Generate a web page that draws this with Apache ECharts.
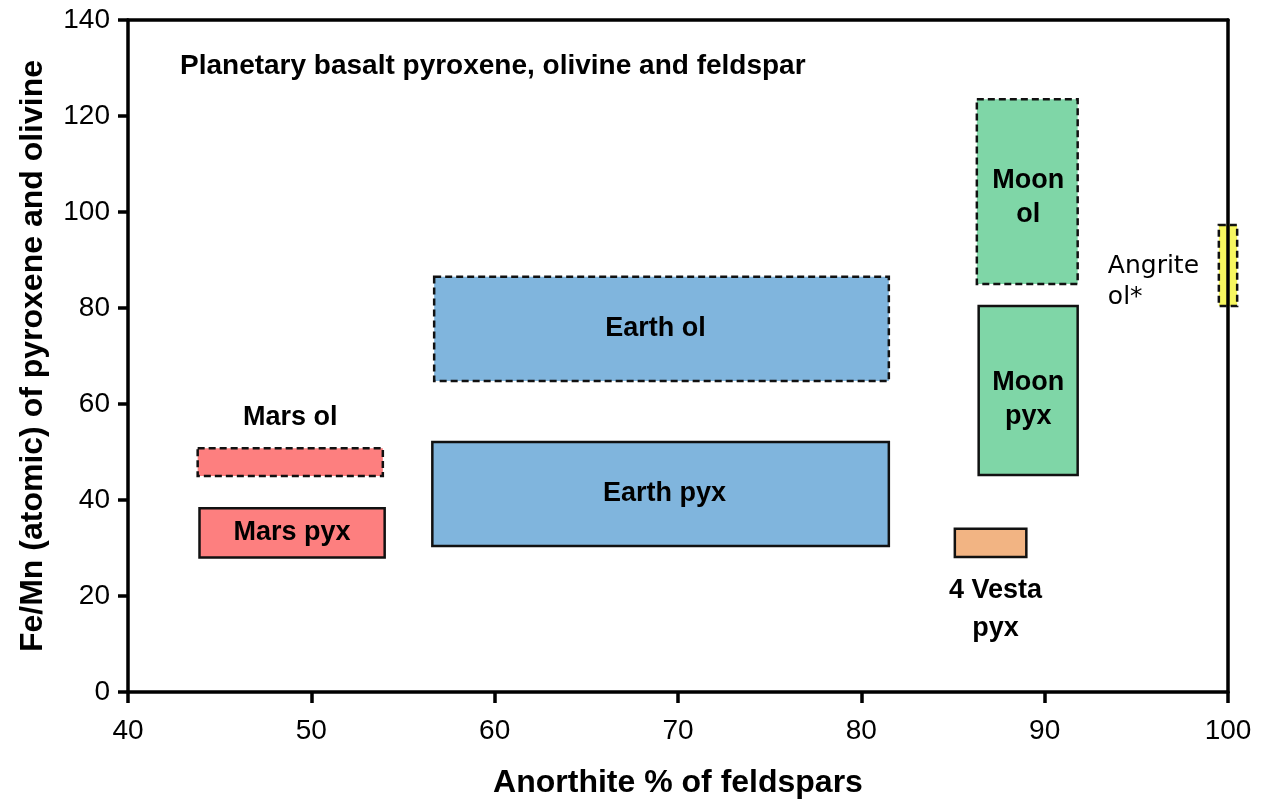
<!DOCTYPE html>
<html>
<head>
<meta charset="utf-8">
<title>Planetary basalt pyroxene, olivine and feldspar</title>
<script src="https://cdn.jsdelivr.net/npm/echarts@6/dist/echarts.min.js"></script>
<style>
  html, body { margin: 0; padding: 0; background: #ffffff; }
  #chart { width: 1265px; height: 808px; }
</style>
</head>
<body>
<div id="chart"></div>
<script>
// Compositional fields: anorthite % of feldspar (x) vs Fe/Mn of pyroxene/olivine (y)
const regionNames   = ['Mars ol', 'Mars pyx', 'Earth ol', 'Earth pyx', 'Moon ol', 'Moon pyx', '4 Vesta pyx', 'Angrite ol*'];
const labelTexts    = ['Mars ol', 'Mars pyx', 'Earth ol', 'Earth pyx', 'Moon\nol', 'Moon\npyx', '4 Vesta\npyx', 'Angrite\nol*'];
const anorthiteLow  = [43.8, 43.9, 56.7, 56.6, 86.3, 86.4, 85.1, 99.5];
const anorthiteHigh = [53.9, 54.0, 81.5, 81.5, 91.8, 91.8, 89.0, 100.5];
const feMnLow       = [45.0, 28.0, 64.8, 30.4, 85.0, 45.2, 28.1, 80.4];
const feMnHigh      = [50.8, 38.3, 86.5, 52.1, 123.5, 80.4, 34.0, 97.3];
const xTicks = [40, 50, 60, 70, 80, 90, 100];
const yTicks = [0, 20, 40, 60, 80, 100, 120, 140];

// Appearance of each field (olivine fields are outlined with dashes)
const regionStyle = {
  'Mars ol':     { fill: '#fd7f7f', dashed: true,  pos: 'top',    dx: 0,   dy: -31 },
  'Mars pyx':    { fill: '#fd7f7f', dashed: false, pos: 'inside', dx: 0,   dy: 0 },
  'Earth ol':    { fill: '#80b5dd', dashed: true,  pos: 'inside', dx: -6,  dy: 0 },
  'Earth pyx':   { fill: '#80b5dd', dashed: false, pos: 'inside', dx: 4,   dy: 0 },
  'Moon ol':     { fill: '#7fd6a7', dashed: true,  pos: 'inside', dx: 1,   dy: 6 },
  'Moon pyx':    { fill: '#7fd6a7', dashed: false, pos: 'inside', dx: 0,   dy: 9 },
  '4 Vesta pyx': { fill: '#f2b483', dashed: false, pos: 'bottom', dx: 5,   dy: 52 },
  'Angrite ol*': { fill: '#f7f760', dashed: true,  pos: 'left',   dx: -111, dy: 16 }
};

const rows = regionNames.map((n, i) => [anorthiteLow[i], anorthiteHigh[i], feMnLow[i], feMnHigh[i], i]);

const boldFont = '"Liberation Sans", Arial, sans-serif';

function renderField(params, api) {
  const i = api.value(4);
  const name = regionNames[i];
  const st = regionStyle[name];
  const p0 = api.coord([api.value(0), api.value(3)]);
  const p1 = api.coord([api.value(1), api.value(2)]);
  const cx = (p0[0] + p1[0]) / 2;
  const cy = (p0[1] + p1[1]) / 2;
  let tx = cx + st.dx, ty = cy + st.dy, align = 'center';
  if (st.pos === 'top') ty = p0[1] + st.dy;
  if (st.pos === 'bottom') ty = p1[1] + st.dy;
  if (st.pos === 'left') { tx = p0[0] + st.dx; align = 'left'; }
  const isAngrite = st.pos === 'left';
  return {
    type: 'group',
    children: [
      {
        type: 'rect',
        shape: { x: p0[0], y: p0[1], width: p1[0] - p0[0], height: p1[1] - p0[1] },
        style: {
          fill: st.fill,
          stroke: '#111111',
          lineWidth: 2.5,
          lineDash: st.dashed ? [7, 4] : null
        }
      },
      {
        type: 'text',
        x: tx,
        y: ty,
        style: {
          text: labelTexts[i],
          fill: '#000000',
          align: align,
          verticalAlign: 'middle',
          fontFamily: isAngrite ? '"DejaVu Sans", Verdana, sans-serif' : boldFont,
          fontWeight: isAngrite ? 'normal' : 'bold',
          fontSize: isAngrite ? 25 : 27,
          lineHeight: isAngrite ? 31 : (st.pos === 'bottom' ? 38 : 34)
        }
      }
    ]
  };
}

const axisLineStyle = { color: '#000000', width: 3.5 };

const chart = echarts.init(document.getElementById('chart'), null, { renderer: 'canvas' });
chart.setOption({
  backgroundColor: '#ffffff',
  animation: false,
  grid: { left: 128, right: 37, top: 20, bottom: 116, containLabel: false },
  graphic: [{
    type: 'text',
    left: 180,
    top: 52,
    style: {
      text: 'Planetary basalt pyroxene, olivine and feldspar',
      fill: '#000000',
      fontFamily: boldFont,
      fontWeight: 'bold',
      fontSize: 28
    }
  }],
  xAxis: [{
    type: 'value',
    min: xTicks[0],
    max: xTicks[xTicks.length - 1],
    interval: xTicks[1] - xTicks[0],
    position: 'bottom',
    name: 'Anorthite % of feldspars',
    nameLocation: 'middle',
    nameGap: 75,
    nameTextStyle: { fontFamily: boldFont, fontWeight: 'bold', fontSize: 32, color: '#000000' },
    axisLine: { show: true, lineStyle: axisLineStyle },
    axisTick: { show: true, length: 11, inside: false, lineStyle: axisLineStyle },
    axisLabel: { fontFamily: boldFont, fontSize: 28, color: '#000000', margin: 25 },
    splitLine: { show: false }
  }, {
    type: 'value',
    min: xTicks[0],
    max: xTicks[xTicks.length - 1],
    position: 'top',
    axisLine: { show: true, onZero: false, lineStyle: axisLineStyle },
    axisTick: { show: false },
    axisLabel: { show: false },
    splitLine: { show: false }
  }],
  yAxis: [{
    type: 'value',
    min: yTicks[0],
    max: yTicks[yTicks.length - 1],
    interval: yTicks[1] - yTicks[0],
    position: 'left',
    name: 'Fe/Mn (atomic) of pyroxene and olivine',
    nameLocation: 'middle',
    nameRotate: 90,
    nameGap: 79,
    nameTextStyle: { fontFamily: boldFont, fontWeight: 'bold', fontSize: 32, color: '#000000' },
    axisLine: { show: true, lineStyle: axisLineStyle },
    axisTick: { show: true, length: 10, inside: false, lineStyle: axisLineStyle },
    axisLabel: { fontFamily: boldFont, fontSize: 28, color: '#000000', margin: 18 },
    splitLine: { show: false }
  }, {
    type: 'value',
    min: yTicks[0],
    max: yTicks[yTicks.length - 1],
    position: 'right',
    z: 10,
    axisLine: { show: true, onZero: false, lineStyle: axisLineStyle },
    axisTick: { show: false },
    axisLabel: { show: false },
    splitLine: { show: false }
  }],
  series: [{
    type: 'custom',
    name: 'Fields',
    xAxisIndex: 0,
    yAxisIndex: 0,
    clip: false,
    renderItem: renderField,
    encode: { x: [0, 1], y: [2, 3] },
    data: rows
  }]
});
</script>
</body>
</html>
